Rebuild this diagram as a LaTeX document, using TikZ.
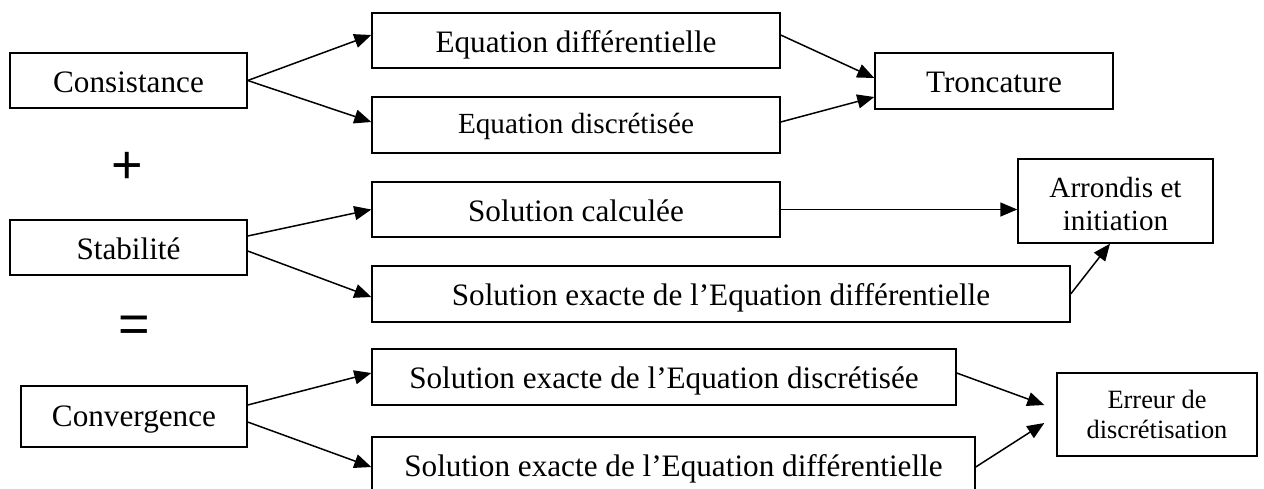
\documentclass[tikz,border=0pt]{standalone}
\usepackage{fontspec}
\setmainfont{Liberation Serif}
\newfontfamily\symfont{Liberation Sans}
\usetikzlibrary{arrows.meta}
\tikzset{
  basebox/.style={draw, line width=0.7pt, inner sep=0pt, align=center, font=\fontsize{15.6}{17}\selectfont},
  box/.style={basebox, text height=11.5pt, text depth=0pt},
  smallbox/.style={basebox, font=\fontsize{14.6}{16.5}\selectfont},
  tinybox/.style={basebox, font=\fontsize{13.2}{15}\selectfont},
  conn/.style={line width=0.75pt, -{Triangle[length=8.5pt,width=7pt]}},
  opsign/.style={inner sep=0pt, font=\symfont\fontsize{27}{27}\selectfont}
}
\begin{document}
\begin{tikzpicture}[x=0.5pt,y=-0.5pt]
\useasboundingbox (0,0) rectangle (1264,488);
% left column
\node[box, minimum width=118.5pt, minimum height=27.5pt] (cons) at (128.5,80.5) {Consistance};
\node[box, minimum width=118.5pt, minimum height=27.5pt] (stab) at (128.5,247.5) {Stabilité};
\node[box, text height=10pt, minimum width=113pt, minimum height=30.5pt] (conv) at (134,416.5) {Convergence};
\node[opsign] (plus) at (127,168) {+};
\node[opsign] (eq) at (134,329) {=};
% middle column
\node[box, minimum width=204pt, minimum height=27.5pt] (eqd) at (576,40.5) {Equation différentielle};
\node[smallbox, text height=8.5pt, text depth=0pt, minimum width=204pt, minimum height=28pt] (eqs) at (576,125) {Equation discrétisée};
\node[box, minimum width=204pt, minimum height=27.5pt] (solc) at (576,209.5) {Solution calculée};
\node[box, minimum width=349pt, minimum height=28pt] (sole) at (721,294) {Solution exacte de l’Equation différentielle};
\node[box, minimum width=292pt, minimum height=28pt] (seds) at (664,377) {Solution exacte de l’Equation discrétisée};
\node[box, minimum width=301.5pt, minimum height=28pt] (sedd) at (673.5,465) {Solution exacte de l’Equation différentielle};
% right column
\node[box, minimum width=119pt, minimum height=28pt] (tronc) at (994,81) {Troncature};
\node[smallbox, text height=29pt, text depth=0pt, minimum width=97.5pt, minimum height=42pt] (arr) at (1115.5,201) {Arrondis et\\initiation};
\node[tinybox, minimum width=100pt, minimum height=41.5pt] (err) at (1157,414.5) {Erreur de\\discrétisation};
% connectors
\draw[conn] (cons.east) -- ([yshift=2.75pt]eqd.west);
\draw[conn] (cons.east) -- ([yshift=1.5pt]eqs.west);
\draw[conn] ([yshift=2.75pt]eqd.east) -- ([yshift=1.5pt]tronc.west);
\draw[conn] ([yshift=1.5pt]eqs.east) -- ([yshift=-8pt]tronc.west);
\draw[conn] ([yshift=5.75pt]stab.east) -- (solc.west);
\draw[conn] ([yshift=-1.75pt]stab.east) -- ([yshift=-1.5pt]sole.west);
\draw[conn] (solc.east) -- (solc.east -| arr.west);
\draw[conn] (sole.east) -- ([xshift=-2.75pt]arr.south);
\draw[conn] ([yshift=5.75pt]conv.east) -- ([yshift=2pt]seds.west);
\draw[conn] ([yshift=-2.75pt]conv.east) -- ([yshift=-1pt]sedd.west);
\draw[conn] ([yshift=2pt]seds.east) -- ([xshift=-6pt,yshift=4.75pt]err.west);
\draw[conn] ([yshift=-1pt]sedd.east) -- ([xshift=-6pt,yshift=-4.25pt]err.west);
\end{tikzpicture}
\end{document}
